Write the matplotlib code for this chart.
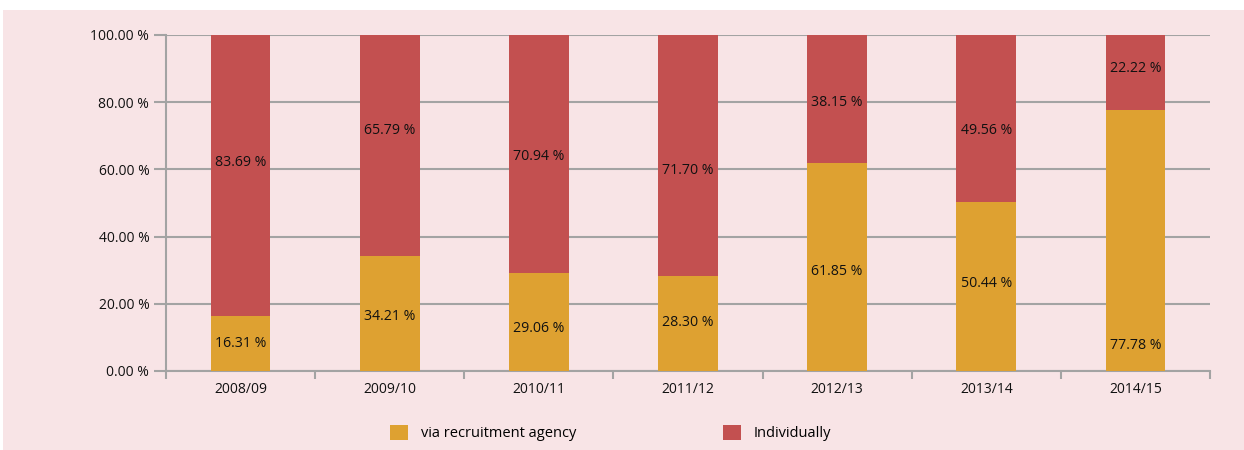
import matplotlib.pyplot as plt
import matplotlib.patches as mpatches

years = ['2008/09', '2009/10', '2010/11', '2011/12', '2012/13', '2013/14', '2014/15']
agency = [16.31, 34.21, 29.06, 28.30, 61.85, 50.44, 77.78]
individual = [83.69, 65.79, 70.94, 71.70, 38.15, 49.56, 22.22]

# where the value labels sit (in % of axis), as in the original layout
agency_label_y = [8.3, 16.1, 12.5, 14.3, 29.5, 25.9, 7.7]
individual_label_y = [62.2, 71.7, 63.7, 59.8, 79.8, 71.7, 89.9]

c_agency = '#DEA131'
c_indiv = '#C35050'
bg = '#F8E4E6'
grid_c = '#A3A3A3'

plt.rcParams['font.family'] = ['Open Sans', 'DejaVu Sans']
plt.rcParams['font.size'] = 10

fig = plt.figure(figsize=(12.44, 4.5), dpi=100)
fig.patch.set_facecolor('white')
fig.patches.append(mpatches.Rectangle((3 / 1244, 0), 1, 1 - 10 / 450,
                                      transform=fig.transFigure,
                                      facecolor=bg, edgecolor='none', zorder=-1))

ax = fig.add_axes([166 / 1244, 1 - 371 / 450, (1210 - 166) / 1244, 336 / 450])
ax.set_facecolor(bg)

x = list(range(len(years)))
ax.bar(x, agency, width=0.4, color=c_agency, zorder=3, label='via recruitment agency')
ax.bar(x, individual, width=0.4, bottom=agency, color=c_indiv, zorder=3, label='Individually')

for i in x:
    ax.text(i, agency_label_y[i], f'{agency[i]:.2f} %', ha='center', va='center',
            fontsize=10.2, color='#111111', zorder=4)
    ax.text(i, individual_label_y[i], f'{individual[i]:.2f} %', ha='center', va='center',
            fontsize=10.2, color='#111111', zorder=4)

ax.set_xlim(-0.5, len(years) - 0.5)
ax.set_ylim(0, 100)
ax.set_yticks([0, 20, 40, 60, 80, 100])
ax.set_yticklabels([f'{v:.2f} %' for v in [0, 20, 40, 60, 80, 100]])
ax.yaxis.grid(True, color=grid_c, linewidth=1.5, zorder=1)
ax.set_axisbelow(True)

ax.set_xticks(x)
ax.set_xticklabels(years)
ax.set_xticks([i - 0.5 for i in range(len(years) + 1)], minor=True)
ax.tick_params(axis='x', which='major', length=0, pad=8, labelcolor='#111111')
ax.tick_params(axis='x', which='minor', length=6, width=1.5, color=grid_c)
ax.tick_params(axis='y', length=9, width=1.5, color=grid_c, pad=3, labelcolor='#111111')

for s in ['top', 'right']:
    ax.spines[s].set_visible(False)
for s in ['left', 'bottom']:
    ax.spines[s].set_color(grid_c)
    ax.spines[s].set_linewidth(1.5)

fig.legend(loc='center left', bbox_to_anchor=(377 / 1244, 1 - 433 / 450), ncol=2,
           frameon=False, handlelength=1.2, handleheight=1.2, handletextpad=0.9,
           columnspacing=10.1, fontsize=10.5)

fig.savefig('out.png', dpi=100, facecolor=fig.get_facecolor())
